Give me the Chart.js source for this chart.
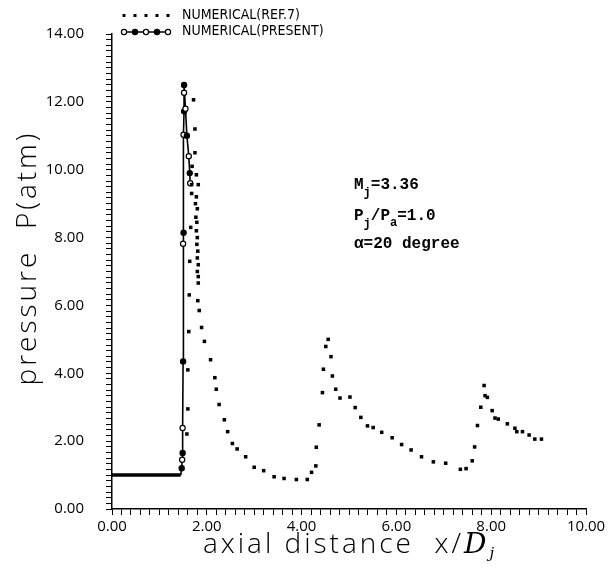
<!DOCTYPE html>
<html>
<head>
<meta charset="utf-8">
<script src="https://cdn.jsdelivr.net/npm/chart.js@4.4.1/dist/chart.umd.min.js"></script>
<style>
  html, body { margin: 0; padding: 0; background: #fff; }
  #wrap { width: 610px; height: 568px; }
</style>
</head>
<body>
<div id="wrap"><canvas id="c" width="610" height="568"></canvas></div>
<script>
// NUMERICAL(REF.7) - dotted series
const refX = [
  1.58, 1.60, 1.60, 1.62, 1.63, 1.64, 1.66, 1.68, 1.69,
  1.72, 1.75, 1.75, 1.78, 1.82, 1.68, 1.76, 1.78, 1.77, 1.80, 1.78, 1.79, 1.79, 1.80, 1.80, 1.81, 1.82, 1.80, 1.82, 1.82,
  1.81, 1.84, 1.89, 1.95, 2.08, 2.17, 2.20, 2.26, 2.37, 2.44, 2.54, 2.64, 2.82, 3.00, 3.20, 3.42, 3.63, 3.89, 4.12,
  4.21, 4.30, 4.31, 4.37, 4.44, 4.46, 4.51, 4.56, 4.62, 4.65, 4.72, 4.81, 5.02, 5.13, 5.25, 5.39, 5.51, 5.69, 5.91,
  6.11, 6.31, 6.53, 6.78, 7.04, 7.35, 7.47, 7.60, 7.65, 7.71, 7.78, 7.85, 7.87, 7.92, 8.02, 8.08, 8.15, 8.34, 8.50,
  8.54, 8.66, 8.80, 8.92, 9.06
];
const refY = [
  2.21, 2.95, 4.10, 5.23, 6.31, 7.30, 8.30, 9.30, 10.10,
  12.06, 11.20, 10.50, 9.85, 9.56, 9.56, 9.00, 9.20, 8.60, 8.85, 8.20, 8.45, 7.80, 8.00, 7.40, 7.60, 7.20, 7.00, 6.85, 6.66,
  6.14, 5.85, 5.35, 4.94, 4.40, 3.87, 3.53, 3.08, 2.63, 2.28, 1.93, 1.77, 1.54, 1.23, 1.13, 0.95, 0.90, 0.87, 0.87,
  1.08, 1.27, 1.82, 2.48, 3.43, 4.12, 4.79, 5.00, 4.49, 3.92, 3.53, 3.27, 3.30, 2.99, 2.70, 2.45, 2.40, 2.26, 2.10,
  1.90, 1.74, 1.54, 1.39, 1.35, 1.17, 1.19, 1.42, 1.83, 2.46, 3.00, 3.64, 3.34, 3.29, 2.90, 2.68, 2.65, 2.51, 2.38,
  2.28, 2.28, 2.18, 2.06, 2.06
];

// NUMERICAL(PRESENT) - solid line with circles
const presentX = [0.00, 0.40, 0.80, 1.20, 1.45, 1.47, 1.48, 1.49, 1.49, 1.50, 1.50, 1.51, 1.51, 1.52, 1.52, 1.52, 1.55, 1.58, 1.62, 1.64, 1.65];
const presentY = [1.00, 1.00, 1.00, 1.00, 1.00, 1.20, 1.45, 1.65, 2.39, 4.35, 7.82, 8.14, 11.03, 11.72, 12.27, 12.50, 11.80, 11.00, 10.40, 9.90, 9.60];

const xMajorTicks = [0, 2, 4, 6, 8, 10];
const xTickLabels = ["0.00", "2.00", "4.00", "6.00", "8.00", "10.00"];
const yMajorTicks = [0, 2, 4, 6, 8, 10, 12, 14];
const yTickLabels = ["0.00", "2.00", "4.00", "6.00", "8.00", "10.00", "12.00", "14.00"];

const X_MINOR = 0.2;
const Y_MINOR = 2 / 12;

function labelFor(value, majors, labels) {
  const i = majors.findIndex((m) => Math.abs(m - value) < 1e-6);
  return i >= 0 ? labels[i] : "";
}

function drawRuns(ctx, x, y, runs) {
  let cx = x;
  runs.forEach((r) => {
    ctx.font = r.font;
    ctx.fillText(r.t, cx, y + (r.dy || 0));
    cx += ctx.measureText(r.t).width;
  });
  return cx;
}
function runsWidth(ctx, runs) {
  let w = 0;
  runs.forEach((r) => {
    ctx.font = r.font;
    w += ctx.measureText(r.t).width;
  });
  return w;
}

const textPlugin = {
  id: "textPlugin",
  afterDraw(chart) {
    const ctx = chart.ctx;
    ctx.save();
    ctx.fillStyle = "#000";
    ctx.strokeStyle = "#000";
    ctx.textBaseline = "alphabetic";
    ctx.textAlign = "left";

    // legend
    const sampleX = [124, 135, 146, 157, 168];
    sampleX.forEach((x) => ctx.fillRect(x - 1.5, 14, 3, 3));
    ctx.lineWidth = 1.5;
    ctx.beginPath();
    ctx.moveTo(121, 32);
    ctx.lineTo(171, 32);
    ctx.stroke();
    sampleX.forEach((x, i) => {
      ctx.beginPath();
      ctx.arc(x, 32, 2.6, 0, Math.PI * 2);
      ctx.fillStyle = i % 2 ? "#000" : "#fff";
      ctx.fill();
      ctx.lineWidth = 1.2;
      ctx.stroke();
    });
    ctx.fillStyle = "#000";
    ctx.font = '14px "DejaVu Sans Condensed", "DejaVu Sans"';
    ctx.textBaseline = "middle";
    ctx.fillText("NUMERICAL(REF.7)", 182, 15);
    ctx.fillText("NUMERICAL(PRESENT)", 182, 31);

    // annotation
    ctx.textBaseline = "alphabetic";
    const big = 'bold 16px "Liberation Mono", "DejaVu Sans Mono"';
    const sub = 'bold 12px "Liberation Mono", "DejaVu Sans Mono"';
    drawRuns(ctx, 354, 189, [
      { t: "M", font: big },
      { t: "j", font: sub, dy: 7 },
      { t: "=3.36", font: big },
    ]);
    drawRuns(ctx, 354, 220, [
      { t: "P", font: big },
      { t: "j", font: sub, dy: 7 },
      { t: "/P", font: big },
      { t: "a", font: sub, dy: 6 },
      { t: "=1.0", font: big },
    ]);
    drawRuns(ctx, 354, 248, [{ t: "\u03b1=20 degree", font: big }]);

    // axis titles
    const tf = '300 28px "Open Sans", "Liberation Sans"';
    ctx.letterSpacing = "3px";
    ctx.font = tf;
    ctx.save();
    ctx.translate(36, 258);
    ctx.rotate(-Math.PI / 2);
    ctx.textAlign = "center";
    ctx.fillText("pressure  P(atm)", 0, 0);
    ctx.restore();

    const xRuns = [
      { t: "axial distance  x/", font: tf },
      { t: "D", font: 'italic 28px "DejaVu Serif", serif' },
      { t: "j", font: 'italic 15px "DejaVu Serif", serif', dy: 5 },
    ];
    const w = runsWidth(ctx, xRuns);
    drawRuns(ctx, 350 - w / 2, 553, xRuns);
    ctx.letterSpacing = "0px";

    ctx.restore();
  },
};

const tickFont = { family: '"Open Sans", "Liberation Sans"', size: 15 };

new Chart(document.getElementById("c"), {
  type: "scatter",
  data: {
    datasets: [
      {
        label: "NUMERICAL(REF.7)",
        data: refX.map((x, i) => ({ x, y: refY[i] })),
        showLine: false,
        pointStyle: "rect",
        pointRadius: 2.5,
        pointBorderWidth: 0,
        pointBackgroundColor: "#000",
        borderColor: "#000",
      },
      {
        label: "NUMERICAL(PRESENT)",
        data: presentX.map((x, i) => ({ x, y: presentY[i] })),
        showLine: true,
        borderColor: "#000",
        borderWidth: 1.6,
        tension: 0,
        segment: {
          borderWidth: (c) => (c.p0.parsed.y < 1.05 && c.p1.parsed.y < 1.05 ? 3.5 : 1.6),
        },
        pointStyle: "circle",
        pointRadius: (c) => (c.parsed && c.parsed.y > 1.05 ? 2.6 : 0),
        pointBorderWidth: 1.2,
        pointBorderColor: "#000",
        pointBackgroundColor: (c) => (c.dataIndex % 2 ? "#000" : "#fff"),
      },
    ],
  },
  options: {
    responsive: false,
    animation: false,
    devicePixelRatio: 1,
    layout: { padding: { left: 0, right: 24, top: 34, bottom: 0 } },
    plugins: {
      legend: { display: false },
      tooltip: { enabled: false },
    },
    scales: {
      x: {
        type: "linear",
        min: 0,
        max: 10,
        afterFit: (s) => { s.height = 59; },
        border: { display: true, color: "#000", width: 1.5 },
        grid: { display: true, drawOnChartArea: false, drawTicks: true, tickLength: 6, color: "#000", tickWidth: 1 },
        ticks: {
          stepSize: X_MINOR,
          autoSkip: false,
          maxRotation: 0,
          padding: 3,
          color: "#000",
          font: tickFont,
          callback: (v) => labelFor(v, xMajorTicks, xTickLabels),
        },
      },
      y: {
        type: "linear",
        min: 0,
        max: 14,
        afterFit: (s) => { s.width = 112; },
        afterBuildTicks: (s) => {
          const t = [];
          for (let i = 0; i * Y_MINOR <= 14 + 1e-6; i++) t.push({ value: +(i * Y_MINOR).toFixed(6) });
          s.ticks = t;
        },
        border: { display: true, color: "#000", width: 1.5 },
        grid: { display: true, drawOnChartArea: false, drawTicks: true, tickLength: 6, color: "#000", tickWidth: 1 },
        ticks: {
          autoSkip: false,
          padding: 22,
          color: "#000",
          font: tickFont,
          callback: (v) => labelFor(v, yMajorTicks, yTickLabels),
        },
      },
    },
  },
  plugins: [textPlugin],
});
</script>
</body>
</html>
